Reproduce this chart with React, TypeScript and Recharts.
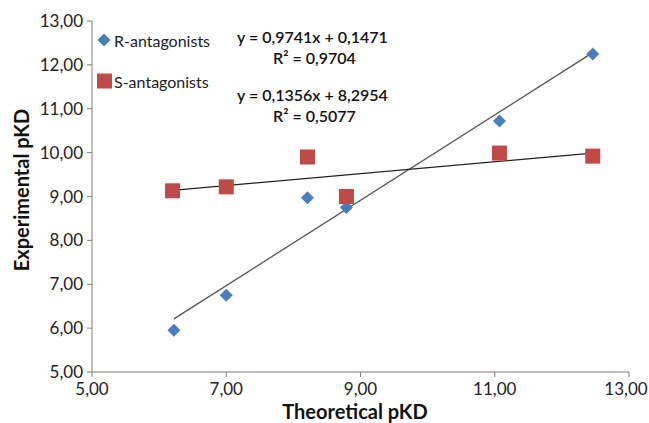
import { ScatterChart, Scatter, XAxis, YAxis } from 'recharts';

const rTheoretical = [6.22, 7.0, 8.21, 8.79, 11.07, 12.46];
const rExperimental = [5.95, 6.75, 8.97, 8.75, 10.72, 12.25];
const sTheoretical = [6.2, 7.0, 8.21, 8.79, 11.07, 12.46];
const sExperimental = [9.13, 9.22, 9.9, 9.0, 9.99, 9.92];

// trendline end points
const rTrendX = [6.22, 12.46];
const rTrendY = [6.21, 12.28];
const sTrendX = [6.2, 12.46];
const sTrendY = [9.14, 9.99];

const xTicks = [5, 7, 9, 11, 13];
const yTicks = [5, 6, 7, 8, 9, 10, 11, 12, 13];

const seriesNames = ['R-antagonists', 'S-antagonists'];

const equations = [
  { text: 'y = 0,9741x + 0,1471', left: 237, top: 27 },
  { text: 'R² = 0,9704', left: 273, top: 48 },
  { text: 'y = 0,1356x + 8,2954', left: 237, top: 85 },
  { text: 'R² = 0,5077', left: 273, top: 106 },
];

const zip = (xs: number[], ys: number[]) => xs.map((x, i) => ({ x, y: ys[i] }));

const rData = zip(rTheoretical, rExperimental);
const sData = zip(sTheoretical, sExperimental);
const rTrend = zip(rTrendX, rTrendY);
const sTrend = zip(sTrendX, sTrendY);

const BLUE = '#4a7ebb';
const RED = '#be4b48';
const FONT = 'Lato, "Open Sans", sans-serif';

const fmt = (v: number) => v.toFixed(2).replace('.', ',');

const Diamond = (props: any) => {
  const { cx, cy } = props;
  const r = 6.5;
  return <path d={`M${cx},${cy - r}L${cx + r},${cy}L${cx},${cy + r}L${cx - r},${cy}Z`} fill={BLUE} />;
};

const Square = (props: any) => {
  const { cx, cy } = props;
  const s = 15;
  return <rect x={cx - s / 2} y={cy - s / 2} width={s} height={s} fill={RED} />;
};

const NoDot = () => null;

// x tick: the last label is pulled in a little so it stays inside the picture
const XTick = (props: any) => {
  const { x, y, payload, index } = props;
  const last = index === xTicks.length - 1;
  return (
    <text x={last ? x - 3 : x} y={y} dy={14} textAnchor="middle" fill="#222" fontSize={17} fontFamily={FONT}>
      {fmt(payload.value)}
    </text>
  );
};

export default function App() {
  return (
    <div style={{ position: 'absolute', left: 0, top: 0, width: 649, height: 423, background: '#fff', fontFamily: FONT }}>
      <ScatterChart width={649} height={423} margin={{ top: 21, right: 20, bottom: 21, left: 32 }}>
        <XAxis
          type="number"
          dataKey="x"
          domain={[5, 13]}
          ticks={xTicks}
          height={30}
          stroke="#7f7f7f"
          tickSize={5}
          tickMargin={4}
          tick={<XTick />}
        />
        <YAxis
          type="number"
          dataKey="y"
          domain={[5, 13]}
          ticks={yTicks}
          tickFormatter={fmt}
          width={60}
          stroke="#7f7f7f"
          tickSize={5}
          tickMargin={4}
          tick={{ fill: '#222', fontSize: 17, fontFamily: FONT }}
        />
        <Scatter name="R-trend" data={rTrend} line={{ stroke: '#555', strokeWidth: 1.3 }} shape={<NoDot />} legendType="none" isAnimationActive={false} />
        <Scatter name="S-trend" data={sTrend} line={{ stroke: '#222', strokeWidth: 1.3 }} shape={<NoDot />} legendType="none" isAnimationActive={false} />
        <Scatter name={seriesNames[0]} data={rData} shape={<Diamond />} isAnimationActive={false} />
        <Scatter name={seriesNames[1]} data={sData} shape={<Square />} isAnimationActive={false} />
      </ScatterChart>

      {/* legend */}
      <div style={{ position: 'absolute', left: 97, top: 29, fontSize: 16, color: '#222' }}>
        <div style={{ display: 'flex', alignItems: 'center', height: 22 }}>
          <svg width={15} height={16}>
            <path d="M7,1.5L13.5,8L7,14.5L0.5,8Z" fill={BLUE} />
          </svg>
          <span style={{ marginLeft: 2 }}>{seriesNames[0]}</span>
        </div>
        <div style={{ display: 'flex', alignItems: 'center', height: 22, marginTop: 19 }}>
          <svg width={16} height={16}>
            <rect x={0} y={0.5} width={15} height={15} fill={RED} />
          </svg>
          <span style={{ marginLeft: 1 }}>{seriesNames[1]}</span>
        </div>
      </div>

      {equations.map((e) => (
        <div
          key={e.text}
          style={{ position: 'absolute', left: e.left, top: e.top, fontSize: 16, color: '#111', whiteSpace: 'nowrap', fontWeight: 600 }}
        >
          {e.text}
        </div>
      ))}

      {/* axis titles */}
      <div style={{ position: 'absolute', left: 0, top: 399, width: 710, textAlign: 'center', fontSize: 20, fontWeight: 700, color: '#111' }}>
        Theoretical pKD
      </div>
      <div
        style={{
          position: 'absolute',
          left: 21,
          top: 190,
          transform: 'translate(-50%, -50%) rotate(-90deg)',
          fontSize: 20,
          fontWeight: 700,
          color: '#111',
          whiteSpace: 'nowrap',
        }}
      >
        Experimental pKD
      </div>
    </div>
  );
}
